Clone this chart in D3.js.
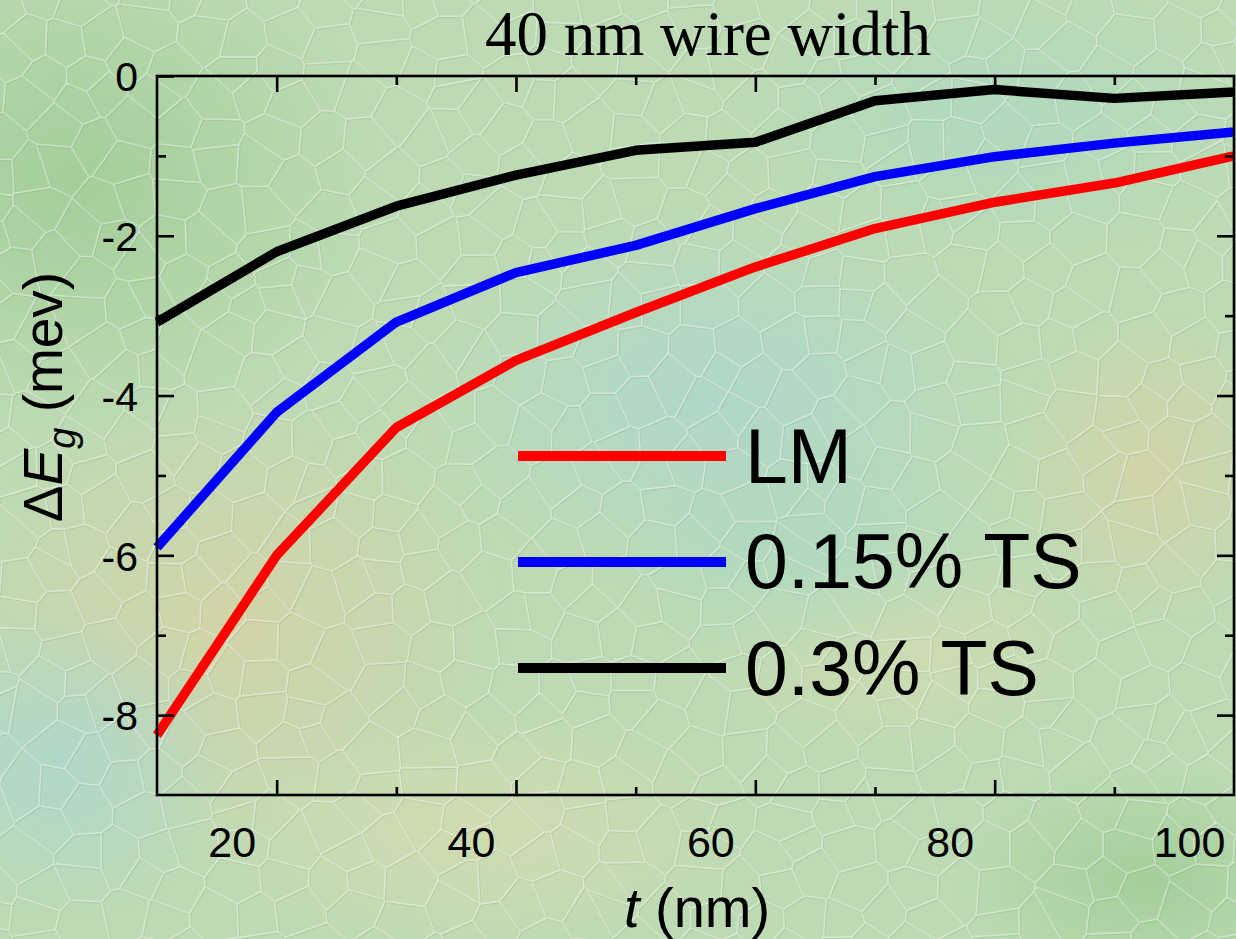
<!DOCTYPE html>
<html><head><meta charset="utf-8">
<script src="https://cdn.jsdelivr.net/npm/d3@7"></script>
<style>html,body{margin:0;padding:0;background:#c0dcb8;}svg{display:block;}</style>
</head><body>
<script>
// ---- data ----
const thickness = [10, 20, 30, 40, 50, 60, 70, 80, 90, 100];
const seriesNames = ["LM", "0.15% TS", "0.3% TS"];
const valuesLM = [-8.25, -6.0, -4.4, -3.56, -2.96, -2.39, -1.91, -1.58, -1.34, -1.0];
const valuesTS015 = [-5.9, -4.21, -3.08, -2.46, -2.12, -1.66, -1.26, -1.01, -0.84, -0.70];
const valuesTS03 = [-3.08, -2.2, -1.63, -1.24, -0.93, -0.83, -0.31, -0.17, -0.28, -0.2];
const xMajorTicks = [20, 40, 60, 80, 100];
const xMinorTicks = [30, 50, 70, 90];
const yMajorTicks = [0, -2, -4, -6, -8];
const yMinorTicks = [-1, -3, -5, -7];
const titleText = "40 nm wire width";

(function () {
const W = 1236, H = 939;
const pL = 157, pR = 1234, pT = 76, pB = 795;
const colors = ["#ff0000", "#0000ff", "#000000"];
const seriesVals = [valuesLM, valuesTS015, valuesTS03];

const svg = d3.select("body").append("svg").attr("width", W).attr("height", H);
const defs = svg.append("defs");

// ---- decorative background ----
function radial(id, color, op) {
  const g = defs.append("radialGradient").attr("id", id);
  g.append("stop").attr("offset", "0%").attr("stop-color", color).attr("stop-opacity", op);
  g.append("stop").attr("offset", "100%").attr("stop-color", color).attr("stop-opacity", 0);
}
radial("gTan", "#d8d2a4", 0.8);
radial("gBlue", "#a8d6d2", 0.7);
radial("gGreen", "#9fcc94", 0.85);
radial("gYel", "#d8dcae", 0.7);
radial("gTeal", "#a6d8c4", 0.6);

const bg = svg.append("g");
bg.append("rect").attr("width", W).attr("height", H).attr("fill", "#bddab4");
const blobs = [
  ["gGreen", 80, 180, 300, 260],
  ["gTan", 230, 620, 280, 230],
  ["gBlue", 720, 400, 300, 200],
  ["gTeal", 1000, 120, 280, 140],
  ["gYel", 470, 830, 300, 130],
  ["gTan", 1150, 470, 140, 160],
  ["gGreen", 1150, 880, 200, 120],
  ["gYel", 900, 640, 200, 120],
  ["gBlue", 60, 760, 180, 160],
  ["gTeal", 820, 560, 200, 120]
];
bg.selectAll("ellipse.blob").data(blobs).join("ellipse")
  .attr("cx", d => d[1]).attr("cy", d => d[2]).attr("rx", d => d[3]).attr("ry", d => d[4])
  .attr("fill", d => `url(#${d[0]})`);

// cobblestone-like texture from a deterministic jittered grid (decoration only)
function hash(i, j, k) { const s = Math.sin(i * 127.1 + j * 311.7 + k * 74.7) * 43758.5453; return s - Math.floor(s); }
const pts = [];
const cw = 46, ch = 34;
for (let j = -1; j <= Math.ceil(H / ch) + 1; j++) {
  for (let i = -1; i <= Math.ceil(W / cw) + 1; i++) {
    pts.push([i * cw + (j % 2 ? cw / 2 : 0) + (hash(i, j, 1) - 0.5) * cw * 0.8,
              j * ch + (hash(i, j, 2) - 0.5) * ch * 0.8]);
  }
}
const vor = d3.Delaunay.from(pts).voronoi([-20, -20, W + 20, H + 20]);
const cellPath = vor.render();
bg.append("path").attr("d", cellPath).attr("fill", "none").attr("stroke", "#6f8f6a")
  .attr("stroke-width", 1.2).attr("stroke-opacity", 0.18).attr("transform", "translate(1.2,1.2)");
bg.append("path").attr("d", cellPath).attr("fill", "none").attr("stroke", "#ffffff")
  .attr("stroke-width", 1.6).attr("stroke-opacity", 0.38);

// ---- scales ----
const x = d3.scaleLinear().domain([10, 100]).range([pL, pR]);
const y = d3.scaleLinear().domain([-9, 0]).range([pB, pT]);

// ---- lines ----
const line = d3.line().x((d, i) => x(thickness[i])).y(d => y(d));
const clip = defs.append("clipPath").attr("id", "plotClip");
clip.append("rect").attr("x", pL - 6).attr("y", 0).attr("width", pR - pL + 12).attr("height", H);
svg.append("g").attr("clip-path", "url(#plotClip)")
  .selectAll("path.series").data(seriesVals).join("path")
  .attr("class", "series")
  .attr("d", d => line(d))
  .attr("fill", "none")
  .attr("stroke", (d, i) => colors[i])
  .attr("stroke-width", 9.5)
  .attr("stroke-linejoin", "round");

// ---- axes ----
const axStroke = 2.6;
const fmt = d => String(d);
function styleAxis(g) {
  g.select(".domain").remove();
  g.selectAll(".tick line").attr("stroke", "#000").attr("stroke-width", axStroke);
}
const gBottom = svg.append("g").attr("transform", `translate(0,${pB})`)
  .call(d3.axisBottom(x).tickValues(xMajorTicks).tickSize(-15).tickPadding(0).tickFormat(fmt));
styleAxis(gBottom);
gBottom.selectAll(".tick text").attr("y", 62).attr("dy", null).attr("dx", -45)
  .attr("font-family", "Arial, 'Liberation Sans', sans-serif").attr("font-size", 43).attr("fill", "#000");
gBottom.selectAll(".tick").filter(d => d === 100).select("line").remove();
const gBottomMinor = svg.append("g").attr("transform", `translate(0,${pB})`)
  .call(d3.axisBottom(x).tickValues(xMinorTicks).tickSize(-8).tickFormat(""));
styleAxis(gBottomMinor);

const gTop = svg.append("g").attr("transform", `translate(0,${pT})`)
  .call(d3.axisTop(x).tickValues(xMajorTicks.filter(v => v < 100)).tickSize(-16).tickFormat(""));
styleAxis(gTop);
const gTopMinor = svg.append("g").attr("transform", `translate(0,${pT})`)
  .call(d3.axisTop(x).tickValues(xMinorTicks).tickSize(-9).tickFormat(""));
styleAxis(gTopMinor);

const gLeft = svg.append("g").attr("transform", `translate(${pL},0)`)
  .call(d3.axisLeft(y).tickValues(yMajorTicks).tickSize(-17).tickPadding(0).tickFormat(fmt));
styleAxis(gLeft);
gLeft.selectAll(".tick text").attr("x", -19).attr("dy", "0.36em").attr("text-anchor", "end")
  .attr("font-family", "Arial, 'Liberation Sans', sans-serif").attr("font-size", 41).attr("fill", "#000");
const gLeftMinor = svg.append("g").attr("transform", `translate(${pL},0)`)
  .call(d3.axisLeft(y).tickValues(yMinorTicks).tickSize(-9).tickFormat(""));
styleAxis(gLeftMinor);

const gRight = svg.append("g").attr("transform", `translate(${pR},0)`)
  .call(d3.axisRight(y).tickValues(yMajorTicks.filter(v => v < 0)).tickSize(-17).tickFormat(""));
styleAxis(gRight);
const gRightMinor = svg.append("g").attr("transform", `translate(${pR},0)`)
  .call(d3.axisRight(y).tickValues(yMinorTicks).tickSize(-9).tickFormat(""));
styleAxis(gRightMinor);

svg.append("rect").attr("x", pL).attr("y", pT).attr("width", pR - pL).attr("height", pB - pT)
  .attr("fill", "none").attr("stroke", "#000").attr("stroke-width", axStroke);

// ---- title ----
svg.append("text").attr("x", 708).attr("y", 55).attr("text-anchor", "middle")
  .attr("font-family", "'Times New Roman', 'Liberation Serif', serif").attr("font-size", 63).attr("fill", "#000")
  .text(titleText);

// ---- axis titles ----
const xt = svg.append("text").attr("x", 697).attr("y", 927).attr("text-anchor", "middle")
  .attr("font-family", "Arial, 'Liberation Sans', sans-serif").attr("font-size", 56).attr("fill", "#000");
xt.append("tspan").attr("font-style", "italic").text("t");
xt.append("tspan").text(" (nm)");

const yt = svg.append("text").attr("transform", "translate(62,397) rotate(-90)").attr("text-anchor", "middle")
  .attr("font-family", "Arial, 'Liberation Sans', sans-serif").attr("font-size", 55).attr("fill", "#000");
yt.append("tspan").text("Δ");
yt.append("tspan").attr("font-style", "italic").text("E");
yt.append("tspan").attr("font-style", "italic").attr("font-size", 38).attr("dy", 13).text("g");
yt.append("tspan").attr("dy", -13).text(" (mev)");

// ---- legend ----
const legBaselines = [483, 588, 695];
const legLineY = [456, 562, 668];
const leg = svg.append("g");
leg.selectAll("line").data(seriesNames).join("line")
  .attr("x1", 518).attr("x2", 726)
  .attr("y1", (d, i) => legLineY[i]).attr("y2", (d, i) => legLineY[i])
  .attr("stroke", (d, i) => colors[i]).attr("stroke-width", 10);
leg.selectAll("text").data(seriesNames).join("text")
  .attr("x", 745).attr("y", (d, i) => legBaselines[i])
  .attr("font-family", "Arial, 'Liberation Sans', sans-serif").attr("font-size", 77).attr("fill", "#000")
  .text(d => d);
})();
</script>
</body></html>
